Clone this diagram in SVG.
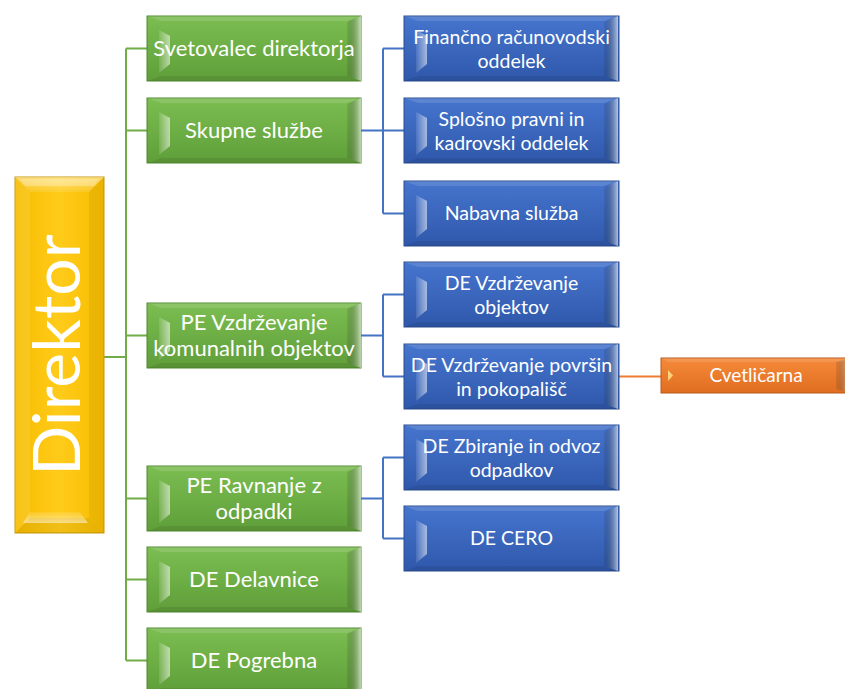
<svg xmlns="http://www.w3.org/2000/svg" xmlns:xlink="http://www.w3.org/1999/xlink" width="845" height="689" viewBox="0 0 845 689">
<style>
text{font-family:Lato,"Liberation Sans","DejaVu Sans",sans-serif;fill:#ffffff;text-anchor:middle}
.tg{font-size:22px}
.tb{font-size:19.5px}
.to{font-size:19px}
.td{font-size:66px}
.cg{stroke:#70AD47;stroke-width:2;fill:none}
.cb{stroke:#4472C4;stroke-width:2;fill:none}
.co{stroke:#ED7D31;stroke-width:2;fill:none}
</style>
<defs>
<linearGradient id="gG" x1="0" y1="0" x2="0" y2="1"><stop offset="0" stop-color="#7CBE52"/><stop offset="1" stop-color="#5F9E39"/></linearGradient>
<linearGradient id="gB" x1="0" y1="0" x2="0" y2="1"><stop offset="0" stop-color="#4675CE"/><stop offset="1" stop-color="#2F58AB"/></linearGradient>
<linearGradient id="gY" x1="0" y1="0" x2="1" y2="0"><stop offset="0" stop-color="#F7BC00"/><stop offset="0.5" stop-color="#FFCB1A"/><stop offset="1" stop-color="#F7BC00"/></linearGradient>
<linearGradient id="gO" x1="0" y1="0" x2="0" y2="1"><stop offset="0" stop-color="#F58A3A"/><stop offset="1" stop-color="#E06D20"/></linearGradient>
<linearGradient id="hl" x1="0" y1="0" x2="1" y2="0"><stop offset="0" stop-color="#fff" stop-opacity="0.1"/><stop offset="1" stop-color="#fff" stop-opacity="0.55"/></linearGradient>
<linearGradient id="hr" x1="0" y1="0" x2="1" y2="0"><stop offset="0" stop-color="#000" stop-opacity="0.08"/><stop offset="1" stop-color="#fff" stop-opacity="0.6"/></linearGradient>
<linearGradient id="ht" x1="0" y1="0" x2="0" y2="1"><stop offset="0" stop-color="#fff" stop-opacity="0.45"/><stop offset="1" stop-color="#fff" stop-opacity="0.1"/></linearGradient>
<linearGradient id="hb" x1="0" y1="0" x2="0" y2="1"><stop offset="0" stop-color="#fff" stop-opacity="0.1"/><stop offset="1" stop-color="#fff" stop-opacity="0.5"/></linearGradient>
<g id="bevel">
<polygon points="0,0 214,0 200,5 14,5" fill="#fff" fill-opacity="0.12"/>
<polygon points="0,65 214,65 200,60 14,60" fill="#000" fill-opacity="0.08"/>
<polygon points="12,14 23,20 23,48 12,57" fill="url(#hl)"/>
<polygon points="200,6 214,0 214,65 200,60" fill="url(#hr)"/>
</g>
<g id="green">
<rect x="0" y="0" width="214" height="65" fill="url(#gG)" stroke="#4F8A2C" stroke-width="1"/>
<use href="#bevel"/>
</g>
<g id="blue">
<rect x="0" y="0" width="215" height="65" fill="url(#gB)" stroke="#2A4C8F" stroke-width="1"/>
<use href="#bevel"/>
</g>
</defs>

<g id="connectors">
<path class="cg" d="M104,357 H126 M126,48.5 V660.5 M126,48.5 H147 M126,130.5 H147 M126,335.5 H147 M126,498.5 H147 M126,579.5 H147 M126,660.5 H147"/>
<path class="cb" d="M361,130.5 H383 M383,48.5 V213.5 M383,48.5 H404 M383,130.5 H404 M383,213.5 H404"/>
<path class="cb" d="M361,335.5 H383 M383,294.5 V376.5 M383,294.5 H404 M383,376.5 H404"/>
<path class="cb" d="M361,498.5 H383 M383,457.5 V538.5 M383,457.5 H404 M383,538.5 H404"/>
<path class="co" d="M619,376.5 H661"/>
</g>

<g id="direktor">
<rect x="15" y="177" width="89" height="356" fill="url(#gY)" stroke="#C9980A" stroke-width="1"/>
<polygon points="15,177 104,177 89,192 30,192" fill="url(#ht)"/>
<polygon points="20,179 99,179 94,186 25,186" fill="#fff" fill-opacity="0.25"/>
<polygon points="15,533 104,533 89,518 30,518" fill="#000" fill-opacity="0.06"/>
<polygon points="30,512 80,512 88,523 23,523" fill="url(#hb)"/>
<polygon points="15,177 30,192 30,518 15,533" fill="#fff" fill-opacity="0.1"/>
<polygon points="104,177 89,192 89,518 104,533" fill="#000" fill-opacity="0.05"/>
<text class="td" transform="translate(80,355) rotate(-90)">Direktor</text>
</g>

<g id="svetovalec" transform="translate(147,16)"><use href="#green"/><text class="tg" x="107" y="40">Svetovalec direktorja</text></g>
<g id="skupne" transform="translate(147,98)"><use href="#green"/><text class="tg" x="107" y="40">Skupne službe</text></g>
<g id="pe-vzdrzevanje" transform="translate(147,303)"><use href="#green"/><text class="tg" x="107" y="27">PE Vzdrževanje</text><text class="tg" x="107" y="53">komunalnih objektov</text></g>
<g id="pe-ravnanje" transform="translate(147,466)"><use href="#green"/><text class="tg" x="107" y="27">PE Ravnanje z</text><text class="tg" x="107" y="53">odpadki</text></g>
<g id="delavnice" transform="translate(147,547)"><use href="#green"/><text class="tg" x="107" y="40">DE Delavnice</text></g>
<g id="pogrebna" transform="translate(147,628)"><use href="#green"/><text class="tg" x="107" y="40">DE Pogrebna</text></g>

<g id="financno" transform="translate(404,16)"><use href="#blue"/><text class="tb" x="107.5" y="28">Finančno računovodski</text><text class="tb" x="107.5" y="52">oddelek</text></g>
<g id="splosno" transform="translate(404,98)"><use href="#blue"/><text class="tb" x="107.5" y="28">Splošno pravni in</text><text class="tb" x="107.5" y="52">kadrovski oddelek</text></g>
<g id="nabavna" transform="translate(404,181)"><use href="#blue"/><text class="tb" x="107.5" y="39">Nabavna služba</text></g>
<g id="de-objektov" transform="translate(404,262)"><use href="#blue"/><text class="tb" x="107.5" y="28">DE Vzdrževanje</text><text class="tb" x="107.5" y="52">objektov</text></g>
<g id="de-povrsin" transform="translate(404,344)"><use href="#blue"/><text class="tb" x="107.5" y="28">DE Vzdrževanje površin</text><text class="tb" x="107.5" y="52">in pokopališč</text></g>
<g id="de-zbiranje" transform="translate(404,425)"><use href="#blue"/><text class="tb" x="107.5" y="28">DE Zbiranje in odvoz</text><text class="tb" x="107.5" y="52">odpadkov</text></g>
<g id="de-cero" transform="translate(404,506)"><use href="#blue"/><text class="tb" x="107.5" y="39">DE CERO</text></g>

<g id="cvetlicarna">
<rect x="661" y="358" width="190" height="35" fill="url(#gO)" stroke="#B85A18" stroke-width="1"/>
<polygon points="661,358 851,358 843,362 669,362" fill="#fff" fill-opacity="0.12"/>
<polygon points="668,370 673,375.5 668,381" fill="#FFD27A"/>
<polygon points="836,362 851,358 851,393 836,389" fill="url(#hr)"/>
<text class="to" x="756" y="382">Cvetličarna</text>
</g>
</svg>
